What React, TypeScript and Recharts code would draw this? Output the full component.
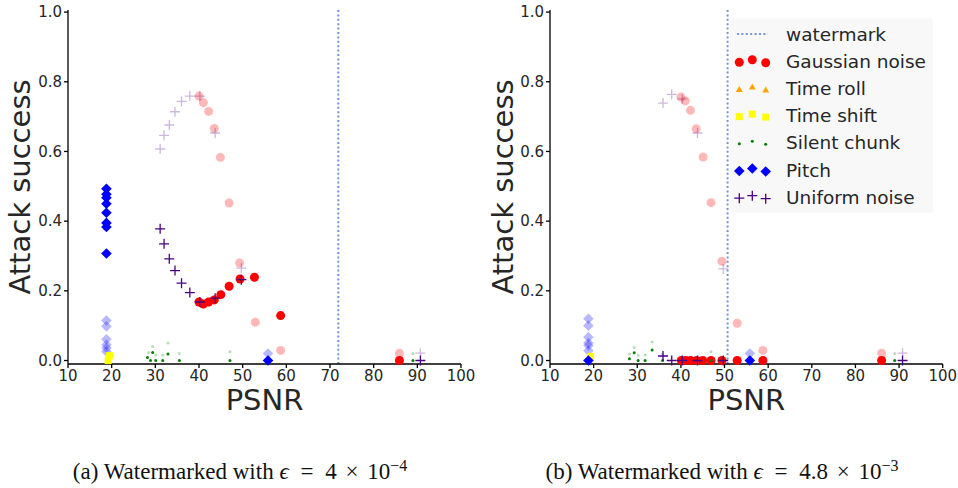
import { ReferenceLine, Scatter, ScatterChart, XAxis, YAxis } from 'recharts';

// tick values
const psnrTicks = [10, 20, 30, 40, 50, 60, 70, 80, 90, 100];
const successTicks = [0, 0.2, 0.4, 0.6, 0.8, 1.0];

const attackNames = ['Gaussian noise', 'Time roll', 'Time shift', 'Silent chunk', 'Pitch', 'Uniform noise'];

// (a) eps = 4e-4 : [psnr, attack success]
const gaussianA = [[40.0, 0.168], [41.0, 0.162], [42.2, 0.168], [43.5, 0.174], [45.0, 0.189], [46.9, 0.213], [49.4, 0.234], [52.7, 0.239], [58.7, 0.129], [85.9, 0]];
const gaussianFadedA = [[40.0, 0.759], [41.0, 0.74], [42.2, 0.715], [43.5, 0.666], [44.9, 0.583], [46.9, 0.452], [49.3, 0.28], [52.9, 0.11], [58.7, 0.029], [85.9, 0.021]];
const timeRollA = [[19.2, 0.0]];
const timeShiftA = [[19.2, 0.0], [19.5, 0.014]];
const silentA = [[28.2, 0.009], [28.9, 0], [29.4, 0.023], [30.1, 0], [31.7, 0], [32.9, 0.019], [35.5, 0], [47.1, 0], [89.0, 0]];
const silentFadedA = [[28.5, 0.023], [29.4, 0.04], [30.1, 0.016], [31.7, 0.016], [32.9, 0.05], [35.5, 0.02], [47.1, 0.025], [89.0, 0.02]];
const pitchA = [[18.8, 0.493], [18.8, 0.477], [18.8, 0.467], [18.8, 0.45], [18.8, 0.424], [18.8, 0.395], [18.8, 0.383], [18.8, 0.307], [55.8, 0]];
const pitchFadedA = [[18.8, 0.115], [18.8, 0.098], [18.8, 0.061], [18.8, 0.045], [18.8, 0.036], [18.8, 0.026], [55.8, 0.02]];
const uniformA = [[31.1, 0.378], [32.0, 0.335], [33.2, 0.292], [34.5, 0.258], [36.0, 0.222], [37.9, 0.195], [40.2, 0.168], [43.7, 0.179], [49.7, 0.232], [90.7, 0]];
const uniformFadedA = [[31.1, 0.607], [32.0, 0.646], [33.2, 0.676], [34.5, 0.714], [36.0, 0.744], [37.9, 0.759], [40.2, 0.759], [43.7, 0.653], [49.7, 0.265], [90.7, 0.021]];
const watermarkA = 71.9;

// (b) eps = 4.8e-3
const gaussianB = [[40.1, 0], [41.1, 0], [42.2, 0], [43.6, 0], [45.0, 0], [46.9, 0], [49.4, 0], [52.9, 0], [58.8, 0], [86.0, 0]];
const gaussianFadedB = [[40.0, 0.756], [41.0, 0.745], [42.2, 0.718], [43.5, 0.665], [45.1, 0.584], [46.9, 0.453], [49.4, 0.285], [52.9, 0.107], [58.8, 0.029], [86.0, 0.021]];
const timeRollB = [[19.3, 0.01]];
const timeShiftB = [[19.3, 0.012]];
const silentB = [[28.2, 0.005], [29.3, 0.022], [30.2, 0], [31.8, 0], [33.4, 0.03], [35.8, 0], [46.9, 0], [89.0, 0]];
const silentFadedB = [[28.2, 0.019], [29.3, 0.037], [30.2, 0.015], [31.8, 0.016], [33.4, 0.053], [35.8, 0.019], [46.9, 0.025], [89.0, 0.02]];
const pitchB = [[18.8, 0], [55.8, 0]];
const pitchFadedB = [[18.8, 0.12], [18.8, 0.1], [18.8, 0.067], [18.8, 0.05], [18.8, 0.043], [18.8, 0.028], [55.8, 0.02]];
const uniformB = [[35.9, 0.013], [37.9, 0], [40.3, 0], [43.8, 0], [49.7, 0], [90.8, 0]];
const uniformFadedB = [[35.9, 0.739], [37.9, 0.764], [40.3, 0.751], [43.8, 0.653], [49.7, 0.263], [90.8, 0.021]];
const watermarkB = 50.7;

const toPts = (arr: number[][]) => arr.map(([x, y]) => ({ x, y }));

const FADE = 0.28;
const TEXT = '#262626';
const FONT = '"DejaVu Sans", sans-serif';

// marker drawers
const circle = (a: number) => (p: any) => <circle cx={p.cx} cy={p.cy} r={4.5} fill="#ff0000" fillOpacity={a} />;
const triangle = (a: number) => (p: any) => (
  <path d={`M${p.cx},${p.cy - 3.5}L${p.cx + 3.5},${p.cy + 2.5}L${p.cx - 3.5},${p.cy + 2.5}Z`} fill="#ffa500" fillOpacity={a} />
);
const square = (a: number) => (p: any) => <rect x={p.cx - 3.5} y={p.cy - 3.5} width={7} height={7} fill="#ffff00" fillOpacity={a} />;
const smallDot = (a: number) => (p: any) => <circle cx={p.cx} cy={p.cy} r={1.5} fill="#008000" fillOpacity={a} />;
const diamond = (a: number) => (p: any) => (
  <path d={`M${p.cx},${p.cy - 5.3}L${p.cx + 5.3},${p.cy}L${p.cx},${p.cy + 5.3}L${p.cx - 5.3},${p.cy}Z`} fill="#0000ff" fillOpacity={a} />
);
const plus = (a: number) => (p: any) => (
  <path d={`M${p.cx - 5},${p.cy}H${p.cx + 5}M${p.cx},${p.cy - 5}V${p.cy + 5}`} stroke="#4b0082" strokeOpacity={a} strokeWidth={1.3} />
);
const markers = [circle, triangle, square, smallDot, diamond, plus];

type PanelProps = {
  width: number;
  yAxisWidth: number;
  right: number;
  yLabelOffset: number;
  faded: number[][][];
  full: number[][][];
  watermark: number;
};

function Panel({ width, yAxisWidth, right, yLabelOffset, faded, full, watermark }: PanelProps) {
  const tick = { fontSize: 15, fill: TEXT, fontFamily: FONT };
  return (
    <ScatterChart width={width} height={420} margin={{ top: 10, right, bottom: 0, left: 0 }}>
      <XAxis
        type="number"
        dataKey="x"
        domain={[10, 100]}
        ticks={psnrTicks}
        height={56}
        tick={tick}
        tickSize={4}
        stroke="#000"
        strokeWidth={1.3}
        label={{ value: 'PSNR', position: 'insideBottom', offset: 10, style: { fontSize: 29, fill: TEXT, fontFamily: FONT } }}
      />
      <YAxis
        type="number"
        dataKey="y"
        domain={[-0.01, 1.006]}
        ticks={successTicks}
        tickFormatter={(v: number) => v.toFixed(1)}
        width={yAxisWidth}
        tick={tick}
        tickSize={4}
        stroke="#000"
        strokeWidth={1.3}
        label={{
          value: 'Attack success',
          angle: -90,
          position: 'insideLeft',
          offset: yLabelOffset,
          style: { fontSize: 29, fill: TEXT, fontFamily: FONT, textAnchor: 'middle' },
        }}
      />
      <ReferenceLine x={watermark} stroke="#7294cf" strokeWidth={2} strokeDasharray="2 2.4" />
      {faded.map((s, i) =>
        s.length ? <Scatter key={'f' + i} data={toPts(s)} shape={markers[i](FADE)} isAnimationActive={false} /> : null
      )}
      {full.map((s, i) => (
        <Scatter key={'s' + i} name={attackNames[i]} data={toPts(s)} shape={markers[i](1)} isAnimationActive={false} />
      ))}
    </ScatterChart>
  );
}

function LegendBox() {
  const rowY = (i: number) => 16 + i * 27.2;
  const xs = [9.3, 22.3, 35.7];
  const jitter = [1, -1.5, 1.5];
  return (
    <svg width={203} height={195} style={{ position: 'absolute', left: 730, top: 18 }}>
      <rect x={0} y={0} width={203} height={195} rx={3} fill="#f7f7f7" fillOpacity={0.9} />
      <line x1={7} x2={38} y1={rowY(0)} y2={rowY(0)} stroke="#7294cf" strokeWidth={2} strokeDasharray="2 2.4" />
      <text x={56} y={rowY(0)} dominantBaseline="central" fontSize={18.5} fill={TEXT} fontFamily={FONT}>
        watermark
      </text>
      {attackNames.map((name, i) => (
        <g key={name}>
          {xs.map((x, k) => (
            <g key={k}>{markers[i](1)({ cx: x, cy: rowY(i + 1) + jitter[k] })}</g>
          ))}
          <text x={56} y={rowY(i + 1)} dominantBaseline="central" fontSize={18.5} fill={TEXT} fontFamily={FONT}>
            {name}
          </text>
        </g>
      ))}
    </svg>
  );
}

const captionStyle = {
  position: 'absolute' as const,
  top: 458,
  width: 480,
  textAlign: 'center' as const,
  fontFamily: '"Liberation Serif", "Times New Roman", serif',
  fontSize: 23,
  lineHeight: '27px',
  color: '#111',
  whiteSpace: 'nowrap' as const,
};

const gap = { display: 'inline-block', width: 6 };

function Caption({ tag, value, exp, center }: { tag: string; value: string; exp: string; center: number }) {
  return (
    <div style={{ ...captionStyle, left: center - 240 }}>
      ({tag}) Watermarked with <i>ϵ</i>
      <span style={gap} /> = <span style={gap} />
      {value}
      <span style={{ ...gap, width: 3 }} /> × <span style={{ ...gap, width: 3 }} />
      10
      <sup style={{ fontSize: 16, verticalAlign: 'top', position: 'relative', top: -6 }}>−{exp}</sup>
    </div>
  );
}

export default function App() {
  return (
    <div style={{ position: 'absolute', left: 0, top: 0, width: 958, height: 488, background: '#fff', overflow: 'hidden' }}>
      <div style={{ position: 'absolute', left: 0, top: 0 }}>
        <Panel
          width={478}
          yAxisWidth={68}
          right={17}
          yLabelOffset={20}
          faded={[gaussianFadedA, [], [], silentFadedA, pitchFadedA, uniformFadedA]}
          full={[gaussianA, timeRollA, timeShiftA, silentA, pitchA, uniformA]}
          watermark={watermarkA}
        />
      </div>
      <div style={{ position: 'absolute', left: 478, top: 0 }}>
        <Panel
          width={480}
          yAxisWidth={72}
          right={15.3}
          yLabelOffset={24.5}
          faded={[gaussianFadedB, [], [], silentFadedB, pitchFadedB, uniformFadedB]}
          full={[gaussianB, timeRollB, timeShiftB, silentB, pitchB, uniformB]}
          watermark={watermarkB}
        />
      </div>
      <LegendBox />
      <Caption tag="a" value="4" exp="4" center={240} />
      <Caption tag="b" value="4.8" exp="3" center={722} />
    </div>
  );
}
